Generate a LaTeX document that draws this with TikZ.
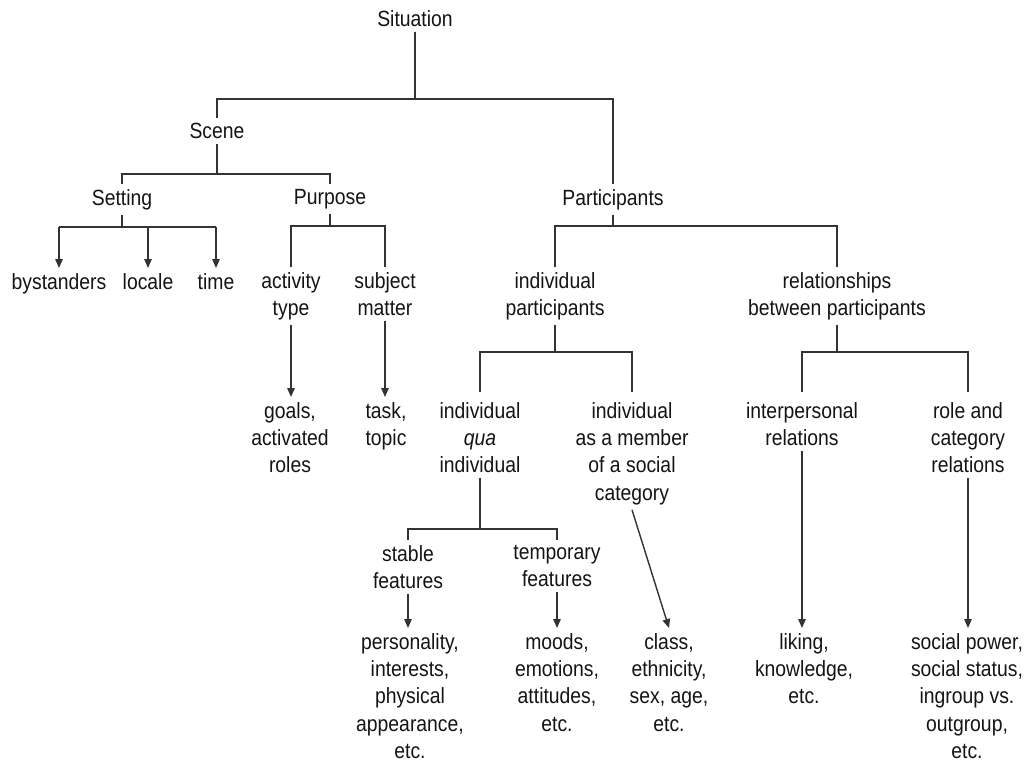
\documentclass[tikz,border=0pt]{standalone}
\usepackage{fontspec}
\setmainfont{Liberation Sans}[FakeStretch=0.88]
\usetikzlibrary{arrows.meta}
\begin{document}
\begin{tikzpicture}[x=1pt,y=-1pt,
  lbl/.style={anchor=north, align=center, inner xsep=2pt, inner ysep=5pt,
              font=\fontsize{22}{27.3}\selectfont, text=black!92},
  conn/.style={draw=black!80, line width=1.4pt},
  arr/.style={conn, -{Triangle[length=9pt,width=7.5pt]}},
]
\fill[white] (0,0) rectangle (1026,763);
\useasboundingbox (0,0) rectangle (1026,763);

% ---- nodes (placed by the top of their first line) ----
\node[lbl] (sit)     at (415,5)   {Situation};
\node[lbl] (scene)   at (217,118) {Scene};
\node[lbl] (part)    at (613,184) {Participants};
\node[lbl] (setting) at (122,184) {Setting};
\node[lbl] (purpose) at (330,184) {Purpose};
\node[lbl] (byst)    at (59,268)  {bystanders};
\node[lbl] (locale)  at (148,268) {locale};
\node[lbl] (time)    at (216,268) {time};
\node[lbl] (activity) at (291,267) {activity\\type};
\node[lbl] (subject) at (385,267) {subject\\matter};
\node[lbl] (goals)   at (290,397) {goals,\\activated\\roles};
\node[lbl] (task)    at (386,397) {task,\\topic};
\node[lbl] (indpart) at (555,267) {individual\\participants};
\node[lbl] (relpart) at (837,267) {relationships\\between participants};
\node[lbl] (qua)     at (480,397) {individual\\\textit{qua}\\individual};
\node[lbl] (member)  at (632,397) {individual\\as a member\\of a social\\category};
\node[lbl] (interp)  at (802,397) {interpersonal\\relations};
\node[lbl] (role)    at (968,397) {role and\\category\\relations};
\node[lbl] (stable)  at (408,540) {stable\\features};
\node[lbl] (temp)    at (557,540) {temporary\\features};
\node[lbl] (pers)    at (410,628) {personality,\\interests,\\physical\\appearance,\\etc.};
\node[lbl] (moods)   at (557,628) {moods,\\emotions,\\attitudes,\\etc.};
\node[lbl] (class)   at (669,628) {class,\\ethnicity,\\sex, age,\\etc.};
\node[lbl] (liking)  at (804,628) {liking,\\knowledge,\\etc.};
\node[lbl] (social)  at (967,628) {social power,\\social status,\\ingroup vs.\\outgroup,\\etc.};

% ---- heights of the branching bars ----
\coordinate (b1) at (0,99);
\coordinate (b2) at (0,174);
\coordinate (b3) at (0,227);
\coordinate (b4) at (0,226);
\coordinate (b5) at (0,226);
\coordinate (b6) at (0,352);
\coordinate (b7) at (0,352);
\coordinate (b8) at (0,529);

% Situation -> Scene, Participants
\draw[conn] (sit.south) -- (sit.south |- b1);
\draw[conn] (scene.north) |- (sit.south |- b1) -| (part.north);

% Scene -> Setting, Purpose
\draw[conn] (scene.south) -- (scene.south |- b2);
\draw[conn] (setting.north) |- (scene.south |- b2) -| (purpose.north);

% Setting -> bystanders, locale, time
\draw[conn] (setting.south) -- (setting.south |- b3);
\draw[conn] (byst.north |- b3) -- (time.north |- b3);
\draw[arr] (byst.north |- b3) -- (byst.north);
\draw[arr] (locale.north |- b3) -- (locale.north);
\draw[arr] (time.north |- b3) -- (time.north);

% Purpose -> activity type, subject matter
\draw[conn] (purpose.south) -- (purpose.south |- b4);
\draw[conn] (activity.north) |- (purpose.south |- b4) -| (subject.north);
\draw[arr] (activity.south) -- (activity.south |- goals.north);
\draw[arr] (subject.south) -- (subject.south |- task.north);

% Participants -> individual participants, relationships
\draw[conn] (part.south) -- (part.south |- b5);
\draw[conn] (indpart.north) |- (part.south |- b5) -| (relpart.north);

% individual participants -> qua individual, member of a category
\draw[conn] (indpart.south) -- (indpart.south |- b6);
\draw[conn] ([yshift=5pt]qua.north) |- (indpart.south |- b6) -| ([yshift=5pt]member.north);

% relationships -> interpersonal, role and category
\draw[conn] (relpart.south) -- (relpart.south |- b7);
\draw[conn] ([yshift=5pt]interp.north) |- (relpart.south |- b7) -| ([yshift=5pt]role.north);

% individual qua individual -> stable, temporary features
\draw[conn] (qua.south) -- (qua.south |- b8);
\draw[conn] (stable.north) |- (qua.south |- b8) -| (temp.north);

% leaf arrows
\draw[arr] (stable.south) -- (stable.south |- pers.north);
\draw[arr] (temp.south) -- (temp.south |- moods.north);
\draw[arr] (member.south) -- (class.north);
\draw[arr] (interp.south) -- (interp.south |- liking.north);
\draw[arr] (role.south) -- (role.south |- social.north);
\end{tikzpicture}
\end{document}
